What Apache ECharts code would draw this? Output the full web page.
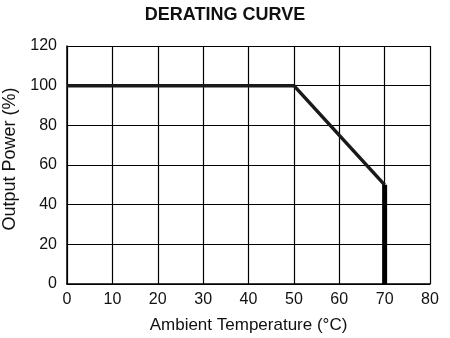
<!DOCTYPE html>
<html><head><meta charset="utf-8">
<script src="https://cdn.jsdelivr.net/npm/echarts@6/dist/echarts.min.js"></script>
<style>html,body{margin:0;padding:0;background:#fff}#c{width:450px;height:338px}</style>
</head><body><div id="c"></div>
<script>
const titleText = "DERATING CURVE";
const xName = "Ambient Temperature (°C)";
const yName = "Output Power (%)";
const curveX = [0, 50, 70];
const curveY = [100, 100, 50];
const dropX = [70, 70];
const dropY = [50, 0];
const chart = echarts.init(document.getElementById('c'));
const font = '"Liberation Sans", Arial, sans-serif';
chart.setOption({
  animation: false,
  title: {text: titleText, left: 'center', top: 1, textStyle: {fontFamily: font, fontSize: 18, fontWeight: 'bold', color: '#111'}},
  grid: {left: 67, right: 20, top: 46, bottom: 54, outerBoundsMode: 'none', containLabel: false},
  xAxis: {type: 'value', min: 0, max: 80, interval: 10,
    name: xName, nameLocation: 'middle', nameGap: 33,
    nameTextStyle: {fontFamily: font, fontSize: 17, color: '#111'},
    axisLine: {show: true, lineStyle: {color: '#000', width: 1.5}},
    axisTick: {show: false},
    axisLabel: {fontFamily: font, fontSize: 16, color: '#111', margin: 8},
    splitLine: {show: true, lineStyle: {color: '#000', width: 1.2}}},
  yAxis: {type: 'value', min: 0, max: 120, interval: 20,
    name: yName, nameLocation: 'middle', nameGap: 47,
    nameTextStyle: {fontFamily: font, fontSize: 18, color: '#111', padding: [0, 0, 0, 12]},
    axisLine: {show: true, lineStyle: {color: '#000', width: 1.5}},
    axisTick: {show: false},
    axisLabel: {fontFamily: font, fontSize: 16, color: '#111', margin: 10},
    splitLine: {show: true, lineStyle: {color: '#000', width: 1.2}}},
  series: [
    {type: 'line', data: curveX.map((x, i) => [x, curveY[i]]), symbol: 'none',
      lineStyle: {color: '#1a1a1a', width: 3.5}},
    {type: 'line', data: dropX.map((x, i) => [x, dropY[i]]), symbol: 'none',
      lineStyle: {color: '#000', width: 5}}
  ]
});
</script></body></html>
